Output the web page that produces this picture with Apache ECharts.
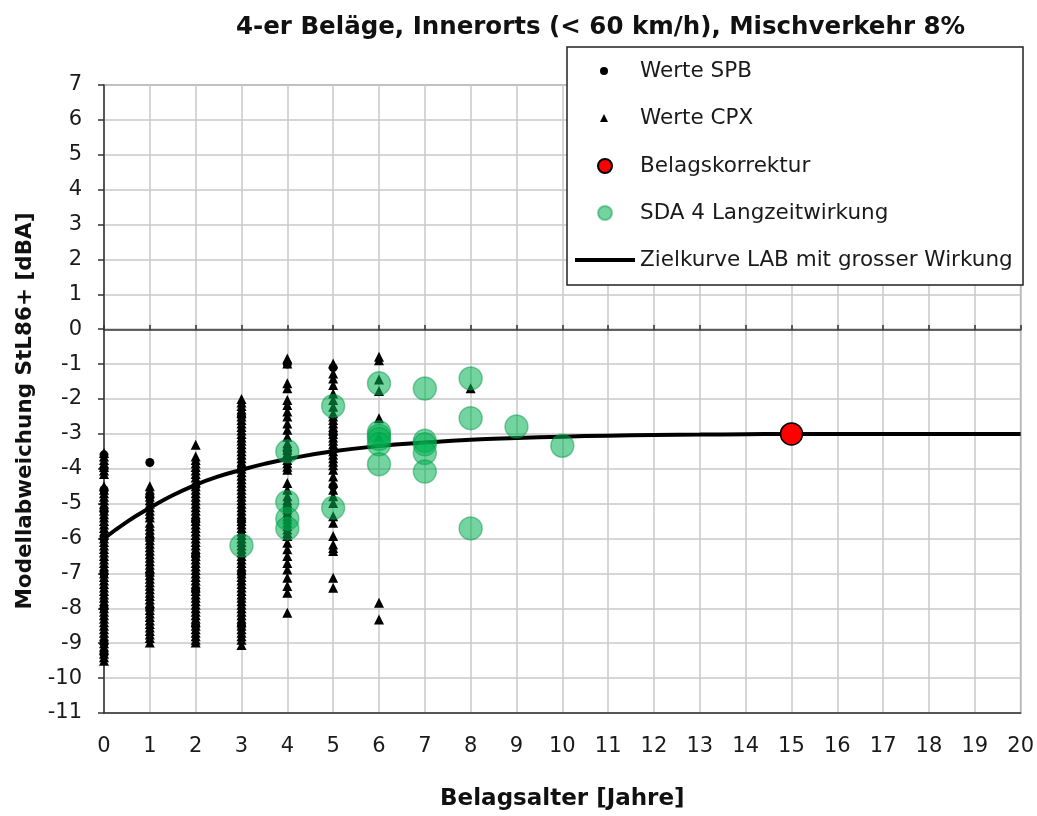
<!DOCTYPE html>
<html><head><meta charset="utf-8">
<script src="https://cdn.jsdelivr.net/npm/echarts@6/dist/echarts.min.js"></script>
<style>html,body{margin:0;padding:0;background:#fff}#c{width:1037px;height:816px}</style>
</head><body><div id="c"></div>
<script>
// ---- data ----
const xTicks = [0,1,2,3,4,5,6,7,8,9,10,11,12,13,14,15,16,17,18,19,20];
// Werte SPB (small circles), per pavement age
const spb0 = [-3.6,-4.0,-4.6,-5.2,-6.0,-7.0,-8.0,-9.0,-9.3];
const spb1 = [-3.82,-4.8,-6.0,-7.0,-8.0];
const spb2 = [-4.5,-5.5,-6.5,-7.5,-8.5];
const spb3 = [-2.5,-4.0,-5.5,-7.0,-8.5];
const spb4 = [-1.0,-3.5,-5.2];
const spb5 = [-1.1,-3.0,-4.5];
// Werte CPX (small triangles), per pavement age
const cpx0 = [-3.55,-3.65,-3.75,-3.85,-3.95,-4.05,-4.15,-4.5,-4.6,-4.7,-4.8,-4.9,-5.0,-5.1,-5.2,-5.3,-5.4,-5.5,-5.6,-5.7,-5.8,-5.9,-6.0,-6.1,-6.2,-6.3,-6.4,-6.5,-6.6,-6.7,-6.8,-6.9,-7.0,-7.1,-7.2,-7.3,-7.4,-7.5,-7.6,-7.7,-7.8,-7.9,-8.0,-8.1,-8.2,-8.3,-8.4,-8.5,-8.6,-8.7,-8.8,-8.9,-9.0,-9.1,-9.2,-9.3,-9.4,-9.5];
const cpx1 = [-4.5,-4.6,-4.7,-4.8,-4.9,-5.0,-5.1,-5.2,-5.3,-5.4,-5.55,-5.65,-5.75,-5.85,-5.95,-6.05,-6.15,-6.25,-6.35,-6.45,-6.55,-6.65,-6.75,-6.85,-6.95,-7.05,-7.15,-7.25,-7.35,-7.45,-7.55,-7.65,-7.75,-7.85,-7.95,-8.05,-8.15,-8.25,-8.35,-8.45,-8.55,-8.65,-8.75,-8.85,-8.98];
const cpx2 = [-3.31,-3.65,-3.75,-3.85,-3.95,-4.05,-4.15,-4.25,-4.4,-4.5,-4.6,-4.7,-4.8,-4.9,-5.0,-5.1,-5.2,-5.3,-5.4,-5.5,-5.6,-5.7,-5.8,-5.9,-6.0,-6.1,-6.2,-6.3,-6.4,-6.5,-6.6,-6.7,-6.8,-6.9,-7.0,-7.1,-7.2,-7.3,-7.4,-7.5,-7.6,-7.7,-7.8,-7.9,-8.0,-8.1,-8.2,-8.3,-8.4,-8.5,-8.6,-8.7,-8.8,-8.9,-8.98];
const cpx3 = [-2.0,-2.1,-2.2,-2.3,-2.4,-2.5,-2.6,-2.7,-2.8,-2.9,-3.0,-3.1,-3.2,-3.3,-3.4,-3.5,-3.6,-3.7,-3.8,-3.9,-4.0,-4.1,-4.2,-4.3,-4.4,-4.5,-4.6,-4.7,-4.8,-4.9,-5.0,-5.1,-5.2,-5.3,-5.4,-5.5,-5.6,-5.7,-5.8,-5.9,-6.0,-6.1,-6.2,-6.3,-6.4,-6.5,-6.6,-6.7,-6.8,-6.9,-7.0,-7.1,-7.2,-7.3,-7.4,-7.5,-7.6,-7.7,-7.8,-7.9,-8.0,-8.1,-8.2,-8.3,-8.4,-8.5,-8.6,-8.7,-8.8,-8.9,-9.05];
const cpx4 = [-0.84,-0.98,-1.55,-1.69,-2.03,-2.17,-2.36,-2.5,-2.7,-2.88,-3.08,-3.27,-3.35,-3.46,-3.55,-3.65,-3.75,-3.84,-3.94,-4.03,-4.41,-4.6,-4.79,-4.9,-4.98,-5.08,-5.17,-5.26,-5.36,-5.45,-5.55,-5.64,-5.74,-5.84,-5.93,-6.12,-6.31,-6.5,-6.7,-6.89,-7.12,-7.36,-7.55,-8.13];
const cpx5 = [-0.98,-1.27,-1.41,-1.6,-1.84,-2.03,-2.22,-2.41,-2.5,-2.6,-2.7,-2.8,-2.9,-3.0,-3.1,-3.2,-3.3,-3.4,-3.5,-3.6,-3.7,-3.8,-3.9,-4.03,-4.22,-4.41,-4.6,-4.79,-4.98,-5.36,-5.55,-5.93,-6.17,-6.27,-6.36,-7.12,-7.41];
const cpx6 = [-0.79,-0.89,-1.44,-1.77,-2.55,-3.08,-7.84,-8.32];
const cpx8 = [-1.69];
// Belagskorrektur
const korrAge = [15];
const korrValue = [-3.0];
// SDA 4 Langzeitwirkung, per pavement age
const sda3 = [-6.2];
const sda4 = [-3.5,-4.95,-5.43,-5.71];
const sda5 = [-2.2,-5.12];
const sda6 = [-1.55,-2.95,-3.05,-3.15,-3.3,-3.87];
const sda7 = [-1.7,-3.2,-3.3,-3.55,-4.08];
const sda8 = [-1.41,-2.55,-5.71];
const sda9 = [-2.79];
const sda10 = [-3.34];
// Zielkurve LAB mit grosser Wirkung
const curveAge   = [0,0.5,1,1.5,2,2.5,3,3.5,4,5,6,7,8,9,10,11,12,13,14,15,16,17,18,19,20];
const curveValue = [-6.0,-5.52,-5.12,-4.76,-4.46,-4.22,-4.03,-3.86,-3.72,-3.5,-3.35,-3.25,-3.17,-3.12,-3.08,-3.05,-3.03,-3.02,-3.01,-3.0,-3.0,-3.0,-3.0,-3.0,-3.0];

// ---- build ----
function pairs(groups){ const out=[]; groups.forEach(([age,vals])=>vals.forEach(v=>out.push([age,v]))); return out; }
const spbData = pairs([[0,spb0],[1,spb1],[2,spb2],[3,spb3],[4,spb4],[5,spb5]]);
const cpxData = pairs([[0,cpx0],[1,cpx1],[2,cpx2],[3,cpx3],[4,cpx4],[5,cpx5],[6,cpx6],[8,cpx8]]);
const sdaData = pairs([[3,sda3],[4,sda4],[5,sda5],[6,sda6],[7,sda7],[8,sda8],[9,sda9],[10,sda10]]);
const korrData = korrAge.map((a,i)=>[a,korrValue[i]]);
const curveData = curveAge.map((a,i)=>[a,curveValue[i]]);

const FONT = 'DejaVu Sans';
const chart = echarts.init(document.getElementById('c'), null, {renderer:'canvas'});
function leg(name, top, left, w, h, icon, pad){
  return {data:[{name, icon}], top, left, itemWidth:w, itemHeight:h, padding:0, z:20, selectedMode:false,
    textStyle:{fontFamily:FONT, fontSize:21.5, color:'#1a1a1a', padding:[0,0,0,pad]}};
}
chart.setOption({
  animation:false,
  backgroundColor:'#fff',
  title:{text:'4-er Beläge, Innerorts (< 60 km/h), Mischverkehr 8%', left:231, top:10,
    textStyle:{fontFamily:FONT, fontWeight:'bold', fontSize:24.5, color:'#111'}},
  grid:{left:104, right:16, top:85, bottom:101, show:true, borderColor:'#8a8a8a', borderWidth:1.5},
  graphic:[{type:'rect', z:15, shape:{x:567, y:47, width:456, height:238},
    style:{fill:'#fff', stroke:'#222', lineWidth:1.5}}],
  legend:[
    leg('Werte SPB', 60, 600, 8, 8, 'circle', 27),
    leg('Werte CPX', 107, 600, 8, 8, 'triangle', 27),
    leg('Belagskorrektur', 155, 597, 14, 14, 'circle', 23),
    leg('SDA 4 Langzeitwirkung', 202, 597, 14, 14, 'circle', 23),
    leg('Zielkurve LAB mit grosser Wirkung', 249, 575, 60, 4, 'rect', 0)
  ],
  xAxis:[{type:'value', min:0, max:20, interval:1, position:'bottom',
    name:'Belagsalter [Jahre]', nameLocation:'middle', nameGap:75,
    nameTextStyle:{fontFamily:FONT, fontWeight:'bold', fontSize:23, color:'#111'},
    axisLine:{show:true, onZero:false, lineStyle:{color:'#333', width:1.5}},
    axisTick:{show:false},
    axisLabel:{fontFamily:FONT, fontSize:21, color:'#1a1a1a', margin:23},
    splitLine:{show:true, lineStyle:{color:'#c8c8c8', width:1.5}}},
   {type:'value', min:0, max:20, interval:1, position:'top', offset:-245,
    axisLine:{show:true, onZero:false, lineStyle:{color:'#333', width:1.5}},
    axisTick:{show:true, inside:false, length:5, lineStyle:{color:'#333', width:1.5}},
    axisLabel:{show:false}, splitLine:{show:false}}],
  yAxis:{type:'value', min:-11, max:7, interval:1,
    name:'Modellabweichung StL86+ [dBA]', nameLocation:'middle', nameGap:60, nameRotate:90,
    nameTextStyle:{fontFamily:FONT, fontWeight:'bold', fontSize:21.5, color:'#111', padding:[0,24,0,0]},
    axisLine:{show:true, onZero:false, lineStyle:{color:'#333', width:1.5}},
    axisTick:{show:true, length:6, lineStyle:{color:'#333', width:1.5}},
    axisLabel:{fontFamily:FONT, fontSize:21, color:'#1a1a1a', margin:22},
    splitLine:{show:true, lineStyle:{color:'#c8c8c8', width:1.5}}},
  series:[
    {name:'Werte SPB', type:'scatter', data:spbData, symbol:'circle', symbolSize:9, z:2,
      itemStyle:{color:'#000', opacity:1}},
    {name:'Werte CPX', type:'scatter', data:cpxData, symbol:'triangle', symbolSize:10, z:3,
      itemStyle:{color:'#000', opacity:1}},
    {name:'Zielkurve LAB mit grosser Wirkung', type:'line', data:curveData, smooth:0.5,
      showSymbol:false, symbol:'none', z:4, lineStyle:{color:'#000', width:4}, itemStyle:{color:'#000'}},
    {name:'SDA 4 Langzeitwirkung', type:'scatter', data:sdaData, symbol:'circle', symbolSize:23, z:5,
      itemStyle:{color:'rgba(0,176,80,0.55)', borderColor:'rgba(0,150,70,0.45)', borderWidth:1.5, opacity:1}},
    {name:'Belagskorrektur', type:'scatter', data:korrData, symbol:'circle', symbolSize:22, z:6,
      itemStyle:{color:'#ff0000', borderColor:'#000', borderWidth:1.5, opacity:1}}
  ]
});
</script></body></html>
